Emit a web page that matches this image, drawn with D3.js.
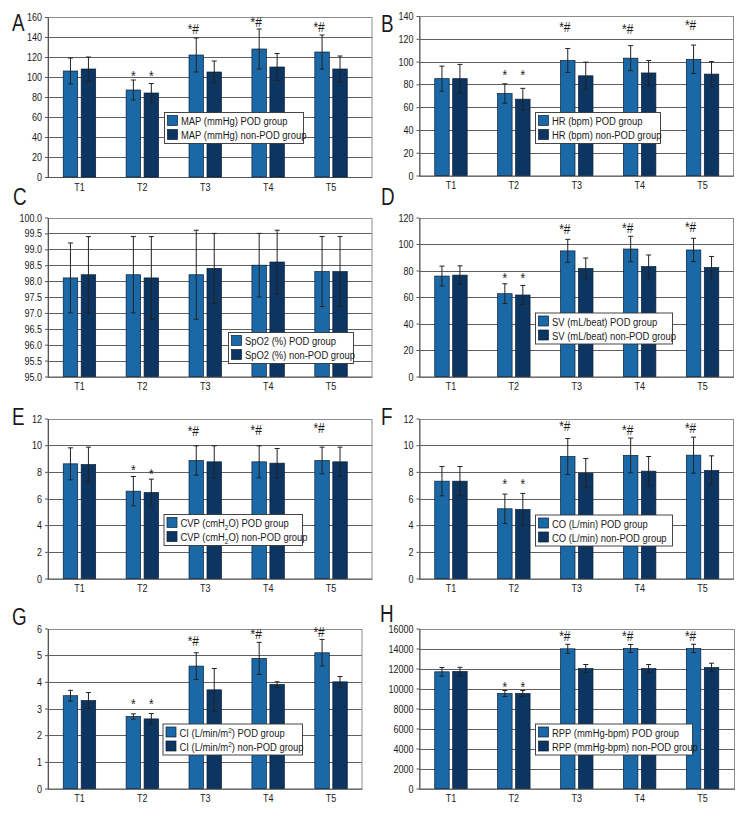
<!DOCTYPE html>
<html><head><meta charset="utf-8">
<script src="https://cdn.jsdelivr.net/npm/d3@7"></script>
<style>
body{margin:0;background:#fff;}
svg text{font-family:"Liberation Sans Narrow","Liberation Sans",Arial,sans-serif;fill:#1a1a1a;}
</style></head><body>
<svg id="fig" width="756" height="816"></svg>
<script>
const timePoints = ["T1","T2","T3","T4","T5"];

// A — MAP (mmHg)
const mapPod = [106, 87, 122, 128, 125];
const mapPodErr = [13, 10, 17, 20, 17];
const mapNon = [108, 84, 105, 110, 108];
const mapNonErr = [12, 9.5, 11, 13.5, 13];
const mapMarkPod = ["", "*", "*#", "*#", "*#"];
const mapMarkNon = ["", "*", "", "", ""];
const mapMarkPodAt = [null, 104, 147, 154, 149];
const mapMarkNonAt = [null, 104, null, null, null];
const mapTicks = [0, 20, 40, 60, 80, 100, 120, 140, 160];

// B — HR (bpm)
const hrPod = [85, 72, 101, 103, 102];
const hrPodErr = [11, 8.5, 10.5, 11, 12.5];
const hrNon = [85, 67, 87.5, 90, 89];
const hrNonErr = [12.5, 9.5, 12, 11, 11];
const hrMarkPod = ["", "*", "*#", "*#", "*#"];
const hrMarkNon = ["", "*", "", "", ""];
const hrMarkPodAt = [null, 91, 129, 127, 130.5];
const hrMarkNonAt = [null, 91, null, null, null];
const hrTicks = [0, 20, 40, 60, 80, 100, 120, 140];

// C — SpO2 (%)
const spoPod = [98.1, 98.2, 98.2, 98.5, 98.3];
const spoPodErr = [1.1, 1.2, 1.4, 1.0, 1.1];
const spoNon = [98.2, 98.1, 98.4, 98.6, 98.3];
const spoNonErr = [1.2, 1.3, 1.1, 1.0, 1.1];
const spoMarkPod = ["", "", "", "", ""];
const spoMarkNon = ["", "", "", "", ""];
const spoMarkPodAt = [null, null, null, null, null];
const spoMarkNonAt = [null, null, null, null, null];
const spoTicks = [95, 95.5, 96, 96.5, 97, 97.5, 98, 98.5, 99, 99.5, 100];

// D — SV (mL/beat)
const svPod = [75.8, 62.5, 94.8, 96.2, 95.5];
const svPodErr = [7.5, 7.5, 8.7, 9.6, 8.8];
const svNon = [76.5, 61.5, 81.5, 83, 82.3];
const svNonErr = [7, 7.2, 7.9, 8.7, 8.3];
const svMarkPod = ["", "*", "*#", "*#", "*#"];
const svMarkNon = ["", "*", "", "", ""];
const svMarkPodAt = [null, 76.6, 110, 111, 112];
const svMarkNonAt = [null, 76.6, null, null, null];
const svTicks = [0, 20, 40, 60, 80, 100, 120];

// E — CVP (cmH2O)
const cvpPod = [8.6, 6.55, 8.85, 8.75, 8.85];
const cvpPodErr = [1.2, 1.1, 1.1, 1.2, 1.0];
const cvpNon = [8.55, 6.45, 8.75, 8.65, 8.75];
const cvpNonErr = [1.3, 1.0, 1.2, 1.1, 1.1];
const cvpMarkPod = ["", "*", "*#", "*#", "*#"];
const cvpMarkNon = ["", "*", "", "", ""];
const cvpMarkPodAt = [null, 8.4, 10.95, 11.05, 11.2];
const cvpMarkNonAt = [null, 8.1, null, null, null];
const cvpTicks = [0, 2, 4, 6, 8, 10, 12];

// F — CO (L/min)
const coPod = [7.3, 5.23, 9.15, 9.23, 9.25];
const coPodErr = [1.1, 1.1, 1.35, 1.3, 1.35];
const coNon = [7.3, 5.18, 7.9, 8.05, 8.1];
const coNonErr = [1.1, 1.2, 1.1, 1.1, 1.1];
const coMarkPod = ["", "*", "*#", "*#", "*#"];
const coMarkNon = ["", "*", "", "", ""];
const coMarkPodAt = [null, 7.3, 11.3, 11.0, 11.2];
const coMarkNonAt = [null, 7.3, null, null, null];
const coTicks = [0, 2, 4, 6, 8, 10, 12];

// G — CI (L/min/m2)
const ciPod = [3.48, 2.7, 4.59, 4.88, 5.09];
const ciPodErr = [0.2, 0.1, 0.5, 0.6, 0.5];
const ciNon = [3.3, 2.61, 3.7, 3.9, 4.0];
const ciNonErr = [0.3, 0.2, 0.8, 0.1, 0.2];
const ciMarkPod = ["", "*", "*#", "*#", "*#"];
const ciMarkNon = ["", "*", "", "", ""];
const ciMarkPodAt = [null, 3.28, 5.48, 5.73, 5.81];
const ciMarkNonAt = [null, 3.28, null, null, null];
const ciTicks = [0, 1, 2, 3, 4, 5, 6];

// H — RPP (mmHg·bpm)
const rppPod = [11670, 9500, 13970, 14000, 14000];
const rppPodErr = [430, 300, 450, 400, 420];
const rppNon = [11700, 9500, 12000, 12000, 12100];
const rppNonErr = [420, 300, 400, 400, 430];
const rppMarkPod = ["", "*", "*#", "*#", "*#"];
const rppMarkNon = ["", "*", "", "", ""];
const rppMarkPodAt = [null, 10500, 15100, 15100, 15100];
const rppMarkNonAt = [null, 10500, null, null, null];
const rppTicks = [0, 2000, 4000, 6000, 8000, 10000, 12000, 14000, 16000];

const podColor = "#1a69a6";
const nonColor = "#0c3562";
const SQ = 0.82; // horizontal condensation of glyphs

const panels = [
  {letter:"A", lx:12, ly:31, pod:mapPod, podErr:mapPodErr, non:mapNon, nonErr:mapNonErr,
   markPod:mapMarkPod, markNon:mapMarkNon, markPodAt:mapMarkPodAt, markNonAt:mapMarkNonAt,
   ticks:mapTicks, fmt:d3.format("d"),
   left:48, right:372, rangeRight:362.5, top:17, bottom:177,
   legend:{x:164, y:112, w:139, label:["MAP (mmHg)"]}},
  {letter:"B", lx:381, ly:32, pod:hrPod, podErr:hrPodErr, non:hrNon, nonErr:hrNonErr,
   markPod:hrMarkPod, markNon:hrMarkNon, markPodAt:hrMarkPodAt, markNonAt:hrMarkNonAt,
   ticks:hrTicks, fmt:d3.format("d"),
   left:419.5, right:733.5, rangeRight:734, top:16, bottom:175.5,
   legend:{x:535, y:112, w:125, label:["HR (bpm)"]}},
  {letter:"C", lx:13, ly:205, pod:spoPod, podErr:spoPodErr, non:spoNon, nonErr:spoNonErr,
   markPod:spoMarkPod, markNon:spoMarkNon, markPodAt:spoMarkPodAt, markNonAt:spoMarkNonAt,
   ticks:spoTicks, fmt:d3.format(".1f"),
   left:48, right:372, rangeRight:362.5, top:217.5, bottom:376.5,
   legend:{x:228, y:332, w:125, label:["SpO2 (%)"]}},
  {letter:"D", lx:381, ly:205, pod:svPod, podErr:svPodErr, non:svNon, nonErr:svNonErr,
   markPod:svMarkPod, markNon:svMarkNon, markPodAt:svMarkPodAt, markNonAt:svMarkNonAt,
   ticks:svTicks, fmt:d3.format("d"),
   left:419.5, right:733.5, rangeRight:734, top:217.5, bottom:376.5,
   legend:{x:535, y:312.5, w:137, label:["SV (mL/beat)"]}},
  {letter:"E", lx:12, ly:425, pod:cvpPod, podErr:cvpPodErr, non:cvpNon, nonErr:cvpNonErr,
   markPod:cvpMarkPod, markNon:cvpMarkNon, markPodAt:cvpMarkPodAt, markNonAt:cvpMarkNonAt,
   ticks:cvpTicks, fmt:d3.format("d"),
   left:48, right:372, rangeRight:362.5, top:418.5, bottom:578.5,
   legend:{x:163.5, y:514, w:138.5, label:["CVP (cmH", {sub:"2"}, "O)"]}},
  {letter:"F", lx:381, ly:425, pod:coPod, podErr:coPodErr, non:coNon, nonErr:coNonErr,
   markPod:coMarkPod, markNon:coMarkNon, markPodAt:coMarkPodAt, markNonAt:coMarkNonAt,
   ticks:coTicks, fmt:d3.format("d"),
   left:419.5, right:733.5, rangeRight:734, top:418.5, bottom:578.5,
   legend:{x:535, y:514.5, w:137, label:["CO (L/min)"]}},
  {letter:"G", lx:12, ly:625, pod:ciPod, podErr:ciPodErr, non:ciNon, nonErr:ciNonErr,
   markPod:ciMarkPod, markNon:ciMarkNon, markPodAt:ciMarkPodAt, markNonAt:ciMarkNonAt,
   ticks:ciTicks, fmt:d3.format("d"),
   left:48, right:362, rangeRight:362.5, top:628.5, bottom:788.5,
   legend:{x:162.5, y:723.5, w:139.5, label:["CI (L/min/m", {sup:"2"}, ")"]}},
  {letter:"H", lx:380, ly:622, pod:rppPod, podErr:rppPodErr, non:rppNon, nonErr:rppNonErr,
   markPod:rppMarkPod, markNon:rppMarkNon, markPodAt:rppMarkPodAt, markNonAt:rppMarkNonAt,
   ticks:rppTicks, fmt:d3.format("d"),
   left:419.5, right:734.5, rangeRight:734, top:628.5, bottom:788.5,
   legend:{x:535, y:723.5, w:157, label:["RPP (mmHg-bpm)"]}}
];

const svg = d3.select("#fig");

// condense glyphs horizontally around each text's own anchor point
function condense(sel){
  sel.each(function(){
    const t = d3.select(this);
    const x = +t.attr("x") || 0, y = +t.attr("y") || 0;
    t.attr("x", 0).attr("y", 0).attr("transform", `translate(${x},${y}) scale(${SQ},1)`);
  });
}

function legendText(g, parts, suffix, x, y){
  const t = g.append("text").attr("x", x).attr("y", y).attr("font-size", 11.5);
  parts.forEach((p, i) => {
    const prev = parts[i-1];
    if (typeof p === "string") {
      const ts = t.append("tspan").text(p);
      if (prev && prev.sub) ts.attr("dy", -3);
      if (prev && prev.sup) ts.attr("dy", 4);
    } else if (p.sub) {
      t.append("tspan").attr("dy", 3).attr("font-size", 8).text(p.sub);
    } else if (p.sup) {
      t.append("tspan").attr("dy", -4).attr("font-size", 8).text(p.sup);
    }
  });
  t.append("tspan").text(" " + suffix);
  condense(t);
}

panels.forEach(p => {
  const g = svg.append("g");
  const dom = [p.ticks[0], p.ticks[p.ticks.length-1]];
  const y = d3.scaleLinear().domain(dom).range([p.bottom, p.top]);
  const x0 = d3.scaleBand().domain(timePoints).range([p.left, p.rangeRight])
               .paddingInner(0.484).paddingOuter(0.242);
  const x1 = d3.scaleBand().domain(["pod","non"]).range([0, x0.bandwidth()]).paddingInner(0.194);

  // gridlines
  g.append("g").selectAll("line").data(p.ticks.slice(1)).join("line")
    .attr("x1", p.left).attr("x2", p.right)
    .attr("y1", d => Math.round(y(d)) + 0.5).attr("y2", d => Math.round(y(d)) + 0.5)
    .attr("stroke", "#5f5f5f").attr("stroke-width", 1);
  // frame
  g.append("rect").attr("x", p.left).attr("y", Math.round(p.top)+0.5)
    .attr("width", p.right - p.left).attr("height", Math.round(p.bottom) - Math.round(p.top))
    .attr("fill", "none").attr("stroke", "#8c8c8c").attr("stroke-width", 1);

  // y axis
  const ya = g.append("g").attr("transform", `translate(${p.left},0)`)
    .call(d3.axisLeft(y).tickValues(p.ticks).tickFormat(p.fmt).tickSize(3).tickSizeOuter(0).tickPadding(3));
  ya.select(".domain").attr("stroke", "#555");
  ya.selectAll(".tick line").attr("stroke", "#555");
  ya.selectAll("text").attr("font-size", 11).attr("fill", "#1a1a1a")
    .style("font-family", '"Liberation Sans Narrow","Liberation Sans",Arial,sans-serif');
  condense(ya.selectAll("text"));

  // x axis
  const xa = g.append("g").attr("transform", `translate(0,${p.bottom})`)
    .call(d3.axisBottom(x0).tickSize(0).tickPadding(6));
  xa.select(".domain").attr("d", `M${p.left},0.5H${p.right}`).attr("stroke", "#555");
  xa.selectAll("text").attr("font-size", 11).attr("fill", "#1a1a1a")
    .style("font-family", '"Liberation Sans Narrow","Liberation Sans",Arial,sans-serif');
  condense(xa.selectAll("text"));

  const rows = timePoints.map((t, i) => ({t, i}));
  const series = [
    {key:"pod", vals:p.pod, errs:p.podErr, color:podColor, marks:p.markPod, at:p.markPodAt},
    {key:"non", vals:p.non, errs:p.nonErr, color:nonColor, marks:p.markNon, at:p.markNonAt}
  ];
  series.forEach(s => {
    const sg = g.append("g");
    const bx = d => x0(d.t) + x1(s.key);
    const bw = x1.bandwidth();
    sg.selectAll("rect").data(rows).join("rect")
      .attr("x", bx).attr("width", bw)
      .attr("y", d => y(s.vals[d.i]))
      .attr("height", d => p.bottom - y(s.vals[d.i]))
      .attr("fill", s.color).attr("stroke", "#0a1f36").attr("stroke-width", 0.7);
    const eg = sg.append("g").attr("stroke", "#222").attr("stroke-width", 1);
    eg.selectAll("line.v").data(rows).join("line").attr("class", "v")
      .attr("x1", d => bx(d) + bw/2).attr("x2", d => bx(d) + bw/2)
      .attr("y1", d => y(s.vals[d.i] + s.errs[d.i]))
      .attr("y2", d => y(s.vals[d.i] - s.errs[d.i]));
    eg.selectAll("line.t").data(rows).join("line").attr("class", "t")
      .attr("x1", d => bx(d) + bw/2 - 2.5).attr("x2", d => bx(d) + bw/2 + 2.5)
      .attr("y1", d => y(s.vals[d.i] + s.errs[d.i])).attr("y2", d => y(s.vals[d.i] + s.errs[d.i]));
    eg.selectAll("line.b").data(rows).join("line").attr("class", "b")
      .attr("x1", d => bx(d) + bw/2 - 2.5).attr("x2", d => bx(d) + bw/2 + 2.5)
      .attr("y1", d => y(s.vals[d.i] - s.errs[d.i])).attr("y2", d => y(s.vals[d.i] - s.errs[d.i]));
    // significance marks
    const mk = sg.selectAll("text.mk").data(rows.filter(d => s.marks[d.i])).join("text").attr("class", "mk")
      .attr("x", d => bx(d) + bw/2 + (s.marks[d.i].length > 1 ? -3 : 0))
      .attr("y", d => y(s.at[d.i]) + (s.marks[d.i].length > 1 ? 3.5 : 8))
      .attr("text-anchor", "middle").attr("font-size", 14.5)
      .text(d => s.marks[d.i]);
    condense(mk);
  });

  // legend
  const L = p.legend;
  const lg = g.append("g");
  lg.append("rect").attr("x", L.x + 0.5).attr("y", L.y + 0.5).attr("width", L.w).attr("height", 31)
    .attr("fill", "#fff").attr("stroke", "#333").attr("stroke-width", 0.9);
  [["pod", podColor, "POD group"], ["non", nonColor, "non-POD group"]].forEach((r, k) => {
    lg.append("rect").attr("x", L.x + 3.5).attr("y", L.y + 3.5 + k*14).attr("width", 10).attr("height", 10)
      .attr("fill", r[1]).attr("stroke", "#0a1f36").attr("stroke-width", 0.7);
    legendText(lg, L.label, r[2], L.x + 17, L.y + 13 + k*14);
  });

  // panel letter
  const lt = svg.append("text").attr("x", p.lx).attr("y", p.ly).attr("font-size", 23).text(p.letter);
  condense(lt);
});
</script>
</body></html>
